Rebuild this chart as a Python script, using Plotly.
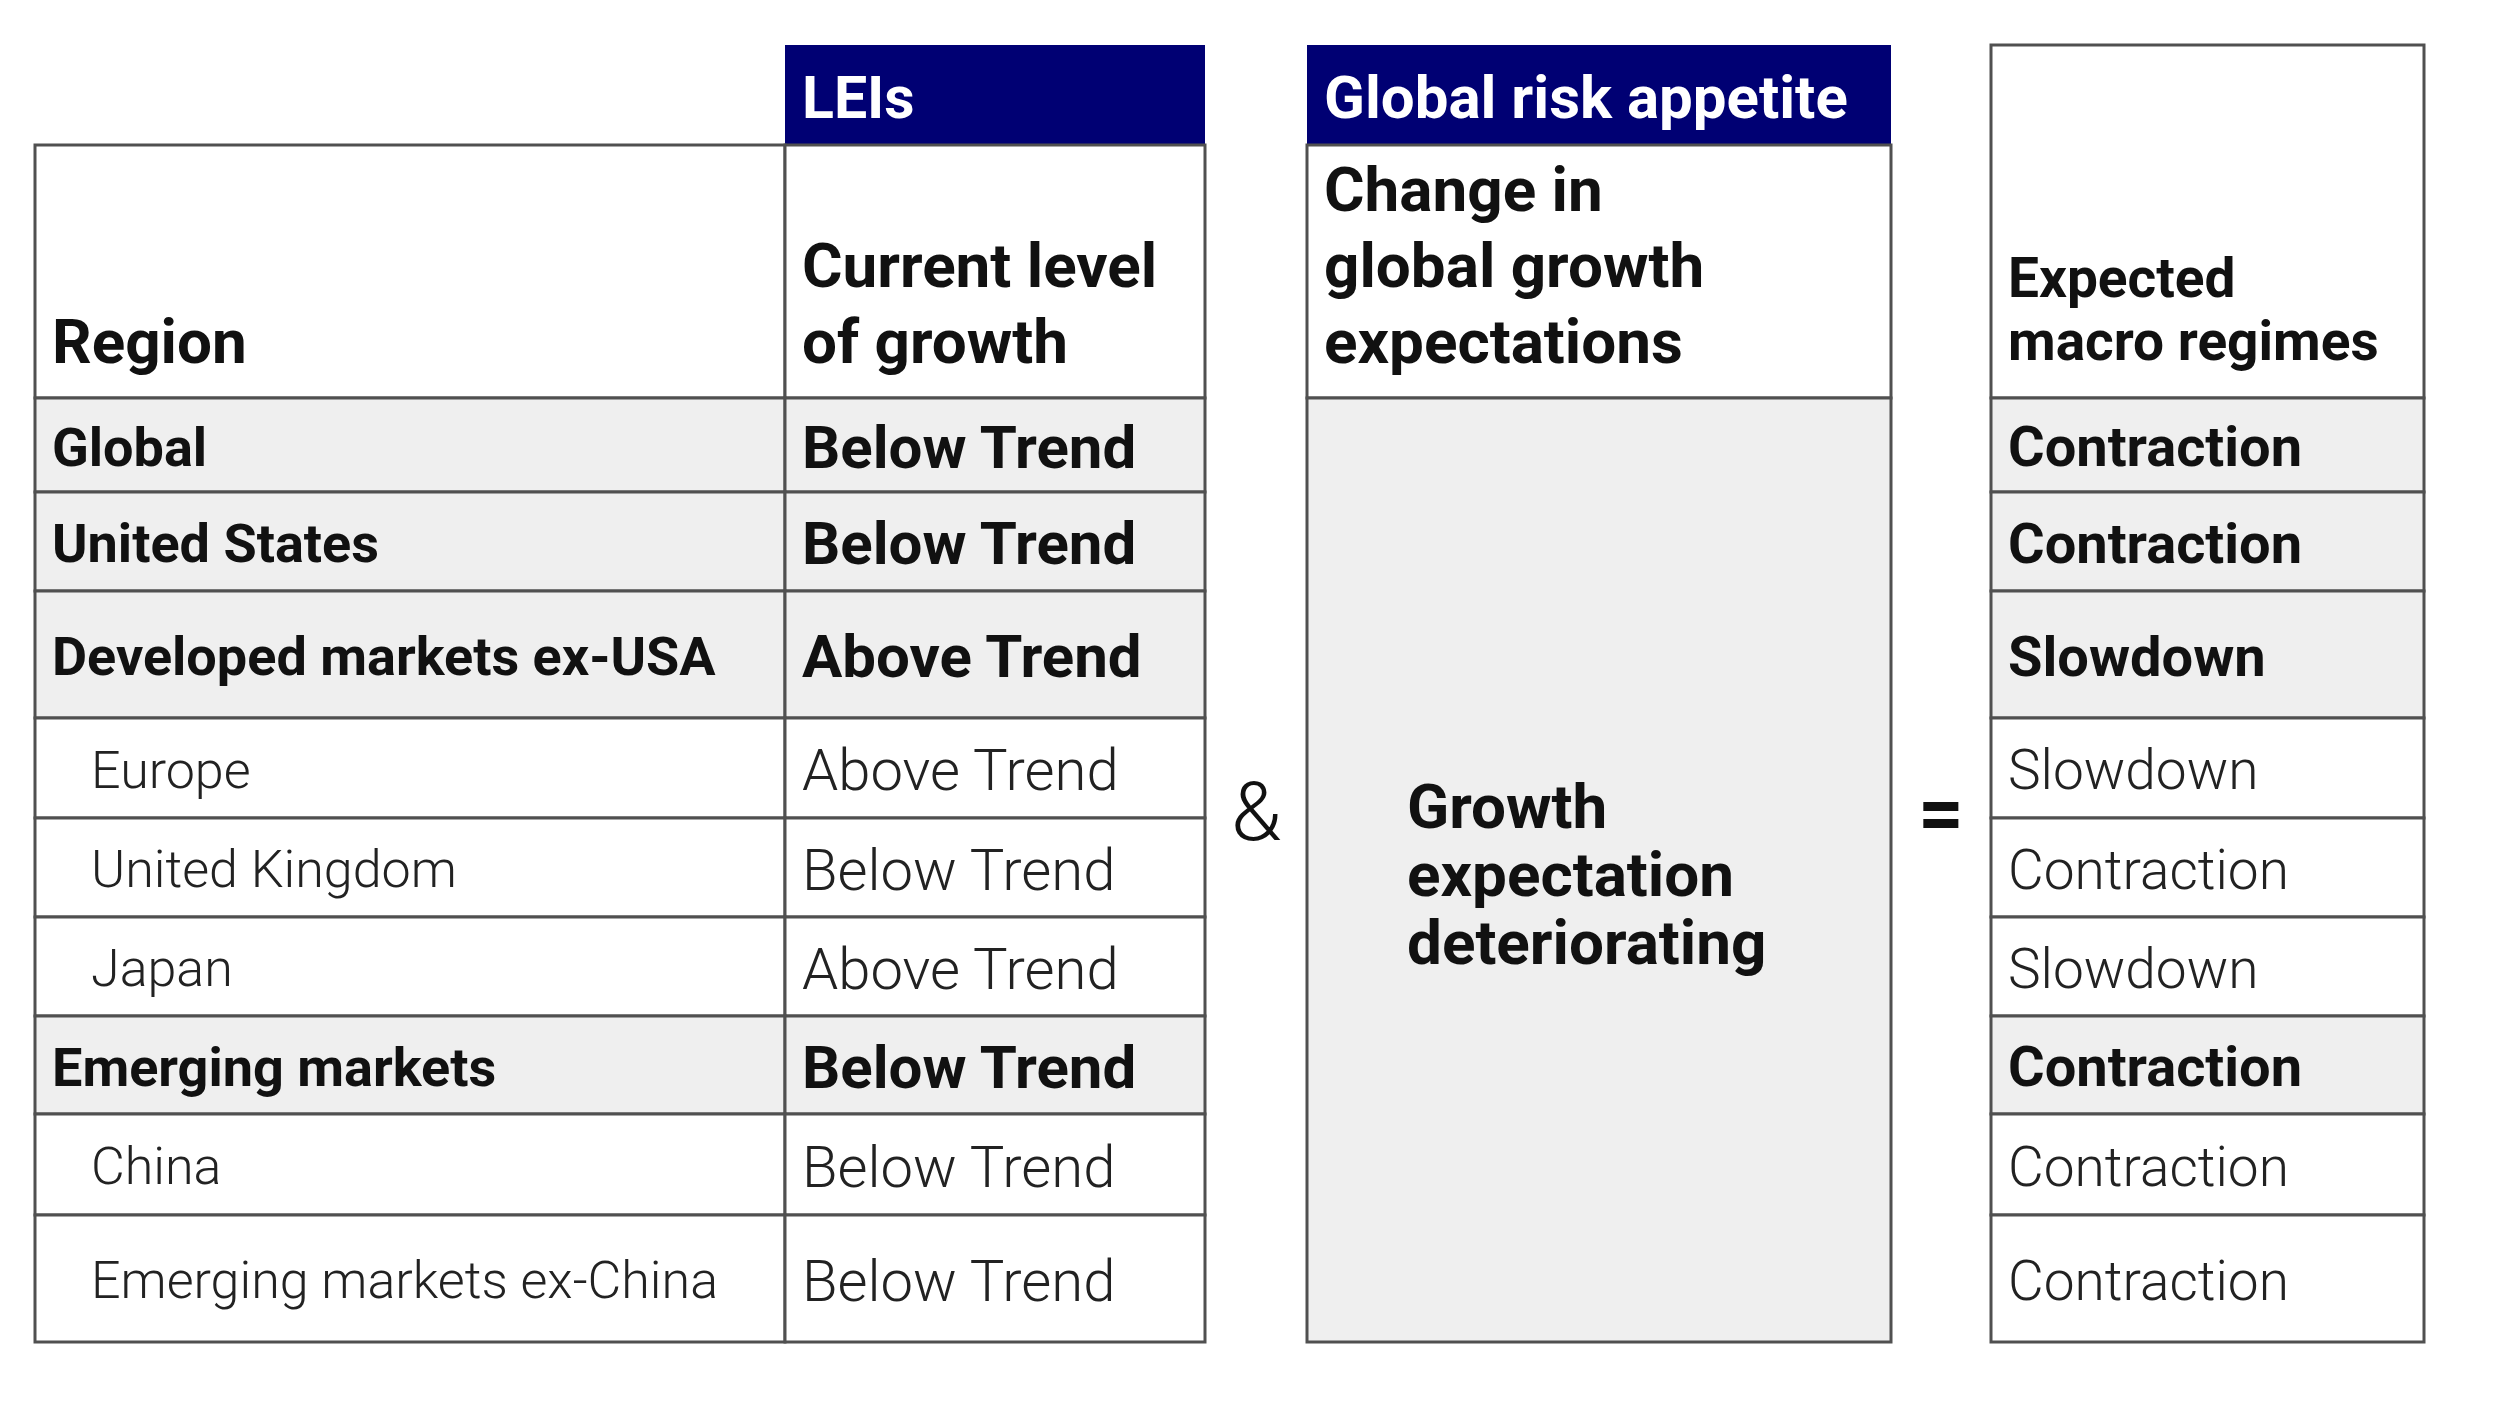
import plotly.graph_objects as go

# --- table content ---
regions = ["Global", "United States", "Developed markets ex-USA", "Europe",
           "United Kingdom", "Japan", "Emerging markets", "China",
           "Emerging markets ex-China"]
is_aggregate = [True, True, True, False, False, False, True, False, False]
lei_growth = ["Below Trend", "Below Trend", "Above Trend", "Above Trend",
              "Below Trend", "Above Trend", "Below Trend", "Below Trend",
              "Below Trend"]
macro_regimes = ["Contraction", "Contraction", "Slowdown", "Slowdown",
                 "Contraction", "Slowdown", "Contraction", "Contraction",
                 "Contraction"]
risk_appetite_view = ["Growth", "expectation", "deteriorating"]

group_titles = ["LEIs", "Global risk appetite"]
col_headers = [["Region"], ["Current level", "of growth"],
               ["Change in", "global growth", "expectations"],
               ["Expected", "macro regimes"]]

# --- layout (page pixels) ---
W, H = 2496, 1404
PAGE_OFFSET = 8                   # default body margin of the html page
col_x = [35, 785, 1205]           # region | LEIs
risk_x = [1307, 1891]
regime_x = [1991, 2424]
title_top, header_top, body_top = 45, 145, 398
row_heights = [94, 99, 127, 100, 99, 99, 98, 101, 127]
PAD = 15

NAVY = "#000073"
GREY = "#efefef"
LINE = "#505050"
FONT = "Roboto"

row_edges = [body_top]
for h in row_heights:
    row_edges.append(row_edges[-1] + h)
body_bottom = row_edges[-1]

shapes = []
annotations = []


def box(x0, x1, y0, y1, fill, line=True):
    shapes.append(dict(type="rect", xref="x", yref="y", x0=x0, x1=x1, y0=y0, y1=y1,
                       fillcolor=fill, layer="below",
                       line=dict(color=LINE if line else fill, width=3 if line else 0)))


def text(x, y, s, size, bold=True, color="#111111", xanchor="left"):
    annotations.append(dict(x=x, y=y, xref="x", yref="y", text=s, showarrow=False,
                            xanchor=xanchor, yanchor="middle", align="left",
                            font=dict(family=FONT, size=size, color=color,
                                      weight=700 if bold else 300)))


def stacked(x, y_last, lines, size, spacing):
    # bottom aligned block: last line centre at y_last
    n = len(lines)
    for k, s in enumerate(lines):
        text(x, y_last - (n - 1 - k) * spacing, s, size)


# navy group titles
title_y = (title_top + header_top) / 2 + 2
box(col_x[1], col_x[2], title_top, header_top, NAVY, line=False)
box(risk_x[0], risk_x[1], title_top, header_top, NAVY, line=False)
text(col_x[1] + PAD, title_y, group_titles[0], 59, color="white")
text(risk_x[0] + PAD, title_y, group_titles[1], 60, color="white")

# header cells
box(col_x[0], col_x[1], header_top, body_top, "white")
box(col_x[1], col_x[2], header_top, body_top, "white")
box(risk_x[0], risk_x[1], header_top, body_top, "white")
box(regime_x[0], regime_x[1], title_top, body_top, "white")
head_y = body_top - 57
stacked(col_x[0] + PAD, head_y, col_headers[0], 62, 76)
stacked(col_x[1] + PAD, head_y, col_headers[1], 62, 76)
stacked(risk_x[0] + PAD, head_y, col_headers[2], 62, 76)
stacked(regime_x[0] + PAD, head_y, col_headers[3], 55, 63)

# body rows
for i, (reg, lei, regime, agg) in enumerate(zip(regions, lei_growth, macro_regimes, is_aggregate)):
    y0, y1 = row_edges[i], row_edges[i + 1]
    yc = (y0 + y1) / 2 + 2
    fill = GREY if agg else "white"
    color = "#111111" if agg else "#222222"
    box(col_x[0], col_x[1], y0, y1, fill)
    box(col_x[1], col_x[2], y0, y1, fill)
    box(regime_x[0], regime_x[1], y0, y1, fill)
    text(col_x[0] + (PAD if agg else 54), yc, reg, 54 if agg else 52, bold=agg, color=color)
    text(col_x[1] + PAD, yc, lei, 60 if agg else 58, bold=agg, color=color)
    text(regime_x[0] + PAD, yc, regime, 56 if agg else 55, bold=agg, color=color)

# merged risk-appetite cell
box(risk_x[0], risk_x[1], body_top, body_bottom, GREY)
mid = (body_top + body_bottom) / 2
stacked(risk_x[0] + 98, mid + 4 + 68, risk_appetite_view, 62, 68)

# operators between the blocks
text((col_x[2] + risk_x[0]) / 2, 812, "&amp;", 82, bold=False, color="#111111", xanchor="center")
text((risk_x[1] + regime_x[0]) / 2, 813, "=", 80, color="#111111", xanchor="center")

fig = go.Figure()
fig.update_layout(
    width=W, height=H,
    margin=dict(l=0, r=0, t=0, b=0),
    paper_bgcolor="white", plot_bgcolor="white",
    xaxis=dict(range=[PAGE_OFFSET, W + PAGE_OFFSET], visible=False, fixedrange=True),
    yaxis=dict(range=[H + PAGE_OFFSET, PAGE_OFFSET], visible=False, fixedrange=True),
    shapes=shapes, annotations=annotations,
    showlegend=False,
)
fig.write_html("out.html")
